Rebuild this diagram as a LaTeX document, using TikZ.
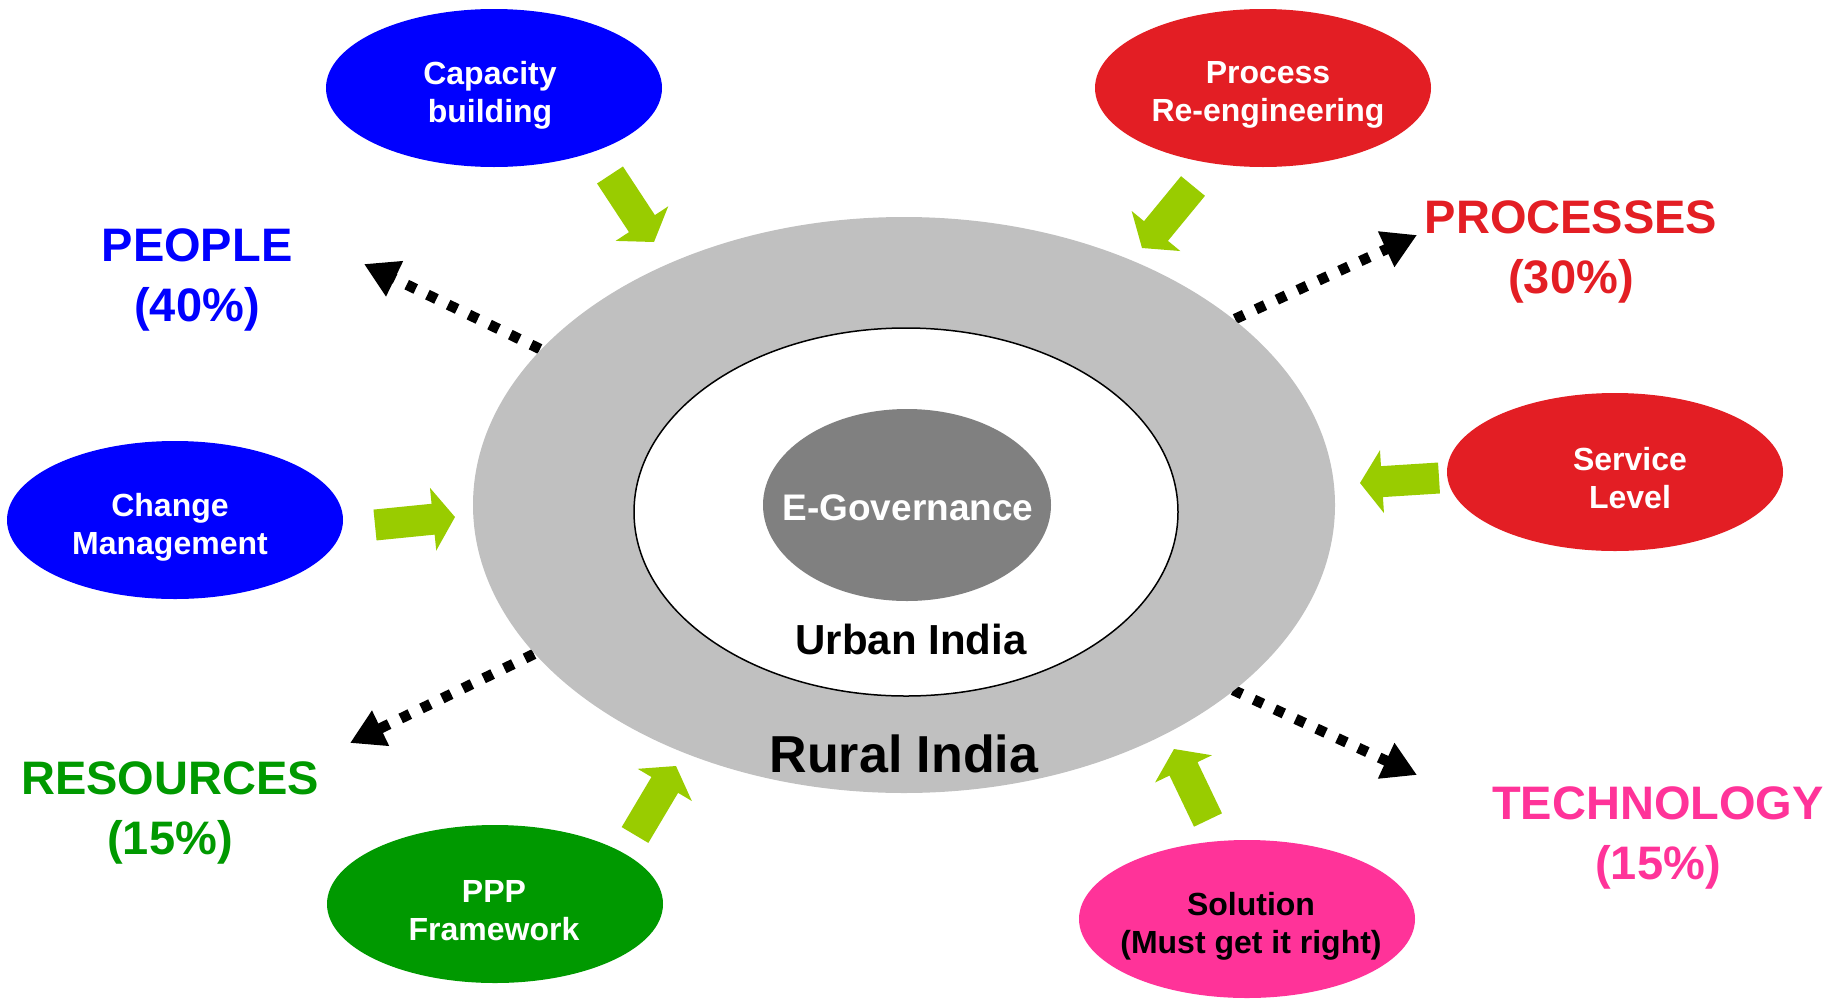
\documentclass[tikz,border=0pt]{standalone}
\usepackage{fontspec}
\setmainfont{Liberation Sans}
\usetikzlibrary{shapes.geometric,arrows.meta,calc}
\definecolor{cblue}{RGB}{0,0,255}
\definecolor{cred}{RGB}{227,30,36}
\definecolor{cgreen}{RGB}{0,153,0}
\definecolor{cpink}{RGB}{255,51,153}
\definecolor{agreen}{RGB}{153,204,0}
\definecolor{lgray}{RGB}{192,192,192}
\definecolor{dgray}{RGB}{128,128,128}
\newcommand\garrow[2]{%
  \coordinate (#1-h) at ($(#2)!22pt!(#1)$);
  \fill[agreen] ($(#1)!15.5pt!90:(#2)$) -- ($(#1-h)!15.5pt!90:(#2)$) -- ($(#1-h)!31.5pt!90:(#2)$) -- (#2) -- ($(#1-h)!31.5pt!-90:(#2)$) -- ($(#1-h)!15.5pt!-90:(#2)$) -- ($(#1)!15.5pt!-90:(#2)$) -- cycle;
}
\begin{document}
\begin{tikzpicture}[x=1pt,y=-1pt,
  sat/.style={ellipse, minimum width=336pt, minimum height=158pt, inner sep=0pt},
  sattext/.style={align=center, text=white, font=\bfseries\fontsize{32}{38}\selectfont},
  biglabel/.style={align=center, font=\bfseries\fontsize{47}{60}\selectfont},
  dotarrow/.style={line width=10.5pt, dash pattern=on 10pt off 13pt, -{Triangle[length=34pt,width=37pt]}}
]
\useasboundingbox (0,0) rectangle (1841,999);

% dotted arrows
\coordinate (ps) at (540,349);   \coordinate (pe) at (364,264);
\coordinate (rs) at (1235,319);  \coordinate (re) at (1417,235);
\coordinate (ss) at (534,654);   \coordinate (se) at (350,743);
\coordinate (ts) at (1233,690);  \coordinate (te) at (1417,775);
\draw[dotarrow] (ps) -- (pe);
\draw[dotarrow] (rs) -- (re);
\draw[dotarrow] (ss) -- (se);
\draw[dotarrow] (ts) -- (te);

% central ellipses
\node[ellipse, fill=lgray, minimum width=862pt, minimum height=576pt, inner sep=0pt] (rural) at (904,505) {};
\node[ellipse, fill=white, draw=black, line width=1.5pt, minimum width=544pt, minimum height=368pt, inner sep=0pt] (urban) at (906,512) {};
\node[ellipse, fill=dgray, minimum width=288pt, minimum height=192pt, inner sep=0pt] (egov) at (907,505) {};
\node[text=white, font=\bfseries\fontsize{37}{44}\selectfont] (egovt) at (908,508) {E-Governance};
\node[font=\bfseries\fontsize{42}{50}\selectfont] (urbant) at (911,639) {Urban India};
\node[font=\bfseries\fontsize{52}{62}\selectfont] (ruralt) at (904,754) {Rural India};

% satellites
\node[sat, fill=cblue] (cap) at (494,88) {};
\node[sattext] at (490,95) {Capacity\\building};
\node[sat, fill=cred] (pro) at (1263,88) {};
\node[sattext] at (1268,95) {Process\\Re-engineering};
\node[sat, fill=cblue] (chg) at (175,520) {};
\node[sattext] at (170,527) {Change\\Management};
\node[sat, fill=cred] (svc) at (1615,472) {};
\node[sattext] at (1630,478) {Service\\Level};
\node[sat, fill=cgreen] (ppp) at (495,904) {};
\node[sattext] at (494,911) {PPP\\Framework};
\node[sat, fill=cpink] (sol) at (1247,919) {};
\node[sattext, text=black] at (1251,926) {Solution\\(Must get it right)};

% labels
\node[biglabel, text=cblue] (people) at (197,280) {PEOPLE\\(40\%)};
\node[biglabel, text=cred] (processes) at (1571,252) {PROCESSES\\(30\%)};
\node[biglabel, text=cgreen] (resources) at (170,813) {RESOURCES\\(15\%)};
\node[biglabel, text=cpink] (technology) at (1658,838) {TECHNOLOGY\\(15\%)};

% green arrows
\coordinate (a1) at (610,175);  \coordinate (b1) at (654,242);
\coordinate (a2) at (375,525);  \coordinate (b2) at (455,517);
\coordinate (a3) at (1439,478); \coordinate (b3) at (1360,483);
\coordinate (a4) at (1193,186); \coordinate (b4) at (1142,248);
\coordinate (a5) at (635,835);  \coordinate (b5) at (676,766);
\coordinate (a6) at (1208,820); \coordinate (b6) at (1174,749);
\garrow{a1}{b1}
\garrow{a2}{b2}
\garrow{a3}{b3}
\garrow{a4}{b4}
\garrow{a5}{b5}
\garrow{a6}{b6}
\end{tikzpicture}
\end{document}
